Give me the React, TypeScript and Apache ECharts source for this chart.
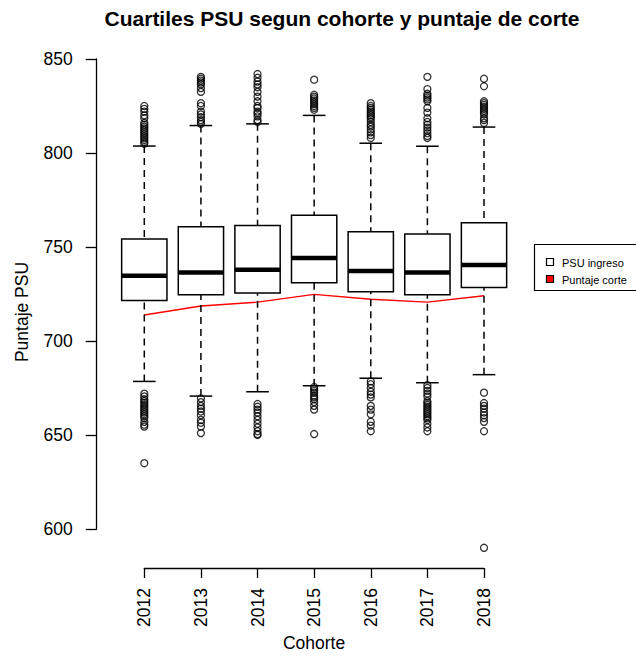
import { useEffect, useRef } from "react";
import * as echarts from "echarts";

// Cohorts on the horizontal axis
const cohorts = ["2012", "2013", "2014", "2015", "2016", "2017", "2018"];

// Five-number summaries of the admission score (PSU) per cohort
const lowerWhisker = [678.5, 670.7, 673.0, 676.2, 680.2, 677.8, 682.1];
const q1 = [721.6, 724.6, 725.5, 731.0, 726.2, 724.6, 728.4];
const median = [734.7, 736.5, 737.9, 744.1, 737.2, 736.5, 740.4];
const q3 = [754.3, 760.8, 761.5, 766.9, 758.1, 756.9, 762.9];
const upperWhisker = [803.7, 814.6, 815.5, 820.0, 805.2, 803.6, 813.8];

// Cut-off score per cohort
const cutoff = [713.8, 718.6, 720.7, 724.8, 722.2, 720.7, 724.1];

// Outlying scores per cohort
const outliers2012 = [805, 806, 807, 808, 809, 810, 811, 812, 813, 814, 815, 816, 818.5, 820, 822, 823.5, 825,
  672, 670.5, 669, 668, 667, 666, 665, 664, 663, 662, 661, 660, 659, 657, 655.5, 654.5, 635];
const outliers2013 = [815.5, 816.5, 817.5, 819, 820.5, 822, 825, 826.5, 832.5, 834.5, 836.5, 837.5, 838.5, 839.5, 840.5,
  669.5, 667.5, 665.5, 664, 662.5, 660.5, 658, 656.5, 654.5, 651];
const outliers2014 = [816.5, 817.5, 819.5, 821, 822, 824, 825, 827.5, 830, 832.5, 835, 836.5, 838, 840, 842,
  666.5, 665, 663.5, 662, 660, 658, 656, 654, 652, 650.5, 650];
const outliers2015 = [823, 824, 825, 826, 827, 828, 829, 830, 831, 839,
  675.5, 674.5, 673.5, 672.5, 671, 670, 669, 667.5, 665.5, 663.5, 650.5];
const outliers2016 = [808, 809.5, 811, 812.5, 814, 815, 816.5, 818, 819, 820, 821, 822, 823, 824, 825, 826.5,
  678.5, 677, 675, 673, 671.5, 670, 665.5, 663.5, 661, 657, 655, 652];
const outliers2017 = [808, 809, 810.5, 812, 813.5, 815, 816.5, 818.5, 821.5, 824, 827.5, 828.5, 829.5, 830.5, 831.5, 834, 840.5,
  676.5, 675, 673.5, 672, 670.5, 668, 667, 666, 665, 664, 663, 662, 661, 660, 659, 658, 656, 654, 652];
const outliers2018 = [816, 817.5, 818.5, 820.5, 821.5, 822.5, 823.5, 824.5, 825.5, 826.5, 827.5, 835.5, 839.5,
  672.5, 667, 665.5, 664, 662, 660.5, 659, 657, 652, 590];
const outliers = [outliers2012, outliers2013, outliers2014, outliers2015, outliers2016, outliers2017, outliers2018];

// Score axis ticks
const yTicks = [600, 650, 700, 750, 800, 850];

const FONT = '"Liberation Sans", Arial, Helvetica, sans-serif';

export default function App() {
  const ref = useRef<HTMLDivElement>(null);

  useEffect(() => {
    if (!ref.current) return;
    const chart = echarts.init(ref.current, null, { renderer: "svg" });

    const boxData = cohorts.map((_, i) => [i + 1, lowerWhisker[i], q1[i], median[i], q3[i], upperWhisker[i]]);
    const outlierData: number[][] = [];
    outliers.forEach((list, i) => list.forEach((v) => outlierData.push([i + 1, v])));
    const cutoffData = cutoff.map((v, i) => [i + 1, v]);

    const thin = { stroke: "#000", lineWidth: 1.5 };

    const option: any = {
      animation: false,
      backgroundColor: "#fff",
      textStyle: { fontFamily: FONT },
      grid: { left: 144.3, right: 152, top: 59, bottom: 127, outerBoundsMode: "none", containLabel: false },
      xAxis: {
        type: "value",
        min: 1,
        max: 7,
        interval: 1,
        offset: 39,
        splitLine: { show: false },
        axisLine: { show: true, onZero: false, lineStyle: { color: "#000", width: 1.3 } },
        axisTick: { show: true, length: 10, lineStyle: { color: "#000", width: 1.3 } },
        axisLabel: {
          rotate: 90,
          margin: 20,
          color: "#000",
          fontSize: 17.5,
          fontFamily: FONT,
          showMinLabel: true,
          showMaxLabel: true,
          formatter: (v: number) => cohorts[Math.round(v) - 1] ?? "",
        },
      },
      yAxis: {
        type: "value",
        min: yTicks[0],
        max: yTicks[yTicks.length - 1],
        interval: 50,
        offset: 47.6,
        splitLine: { show: false },
        axisLine: { show: true, lineStyle: { color: "#000", width: 1.3 } },
        axisTick: { show: true, length: 11, lineStyle: { color: "#000", width: 1.3 } },
        axisLabel: {
          margin: 24,
          color: "#000",
          fontSize: 17.5,
          fontFamily: FONT,
          showMinLabel: true,
          showMaxLabel: true,
        },
      },
      series: [
        {
          type: "line",
          data: cutoffData,
          symbol: "none",
          z: 1,
          lineStyle: { color: "#ff0000", width: 1.4 },
        },
        {
          type: "custom",
          data: boxData,
          z: 2,
          clip: false,
          renderItem: (_params: any, api: any) => {
            const x = api.value(0);
            const half = api.size([0.4, 0])[0];
            const staple = half / 2;
            const cx = api.coord([x, api.value(3)])[0];
            const yLw = api.coord([x, api.value(1)])[1];
            const yQ1 = api.coord([x, api.value(2)])[1];
            const yMed = api.coord([x, api.value(3)])[1];
            const yQ3 = api.coord([x, api.value(4)])[1];
            const yUw = api.coord([x, api.value(5)])[1];
            const dashed = { ...thin, lineDash: [7, 5] };
            return {
              type: "group",
              children: [
                { type: "line", shape: { x1: cx, y1: yLw, x2: cx, y2: yQ1 }, style: dashed },
                { type: "line", shape: { x1: cx, y1: yUw, x2: cx, y2: yQ3 }, style: dashed },
                { type: "line", shape: { x1: cx - staple, y1: yLw, x2: cx + staple, y2: yLw }, style: thin },
                { type: "line", shape: { x1: cx - staple, y1: yUw, x2: cx + staple, y2: yUw }, style: thin },
                {
                  type: "rect",
                  shape: { x: cx - half, y: yQ3, width: 2 * half, height: yQ1 - yQ3 },
                  style: { fill: "#fff", stroke: "#000", lineWidth: 1.5 },
                },
                {
                  type: "line",
                  shape: { x1: cx - half, y1: yMed, x2: cx + half, y2: yMed },
                  style: { stroke: "#000", lineWidth: 4.5 },
                },
              ],
            };
          },
        },
        {
          type: "scatter",
          data: outlierData,
          clip: false,
          z: 3,
          symbol: "circle",
          symbolSize: 7,
          itemStyle: { color: "rgba(255,255,255,0)", borderColor: "#000", borderWidth: 1.3 },
        },
      ],
      graphic: [
        {
          type: "text",
          x: 342,
          y: 18,
          style: {
            text: "Cuartiles PSU segun cohorte y puntaje de corte",
            font: `bold 21px ${FONT}`,
            fill: "#000",
            align: "center",
            verticalAlign: "middle",
          },
        },
        {
          type: "text",
          x: 22,
          y: 312,
          rotation: Math.PI / 2,
          style: {
            text: "Puntaje PSU",
            font: `17.5px ${FONT}`,
            fill: "#000",
            align: "center",
            verticalAlign: "middle",
          },
        },
        {
          type: "text",
          x: 314,
          y: 643,
          style: {
            text: "Cohorte",
            font: `17.5px ${FONT}`,
            fill: "#000",
            align: "center",
            verticalAlign: "middle",
          },
        },
        {
          type: "group",
          children: [
            {
              type: "rect",
              shape: { x: 534.5, y: 244.5, width: 120, height: 46 },
              style: { fill: "#fff", stroke: "#000", lineWidth: 1.2 },
            },
            {
              type: "rect",
              shape: { x: 546.5, y: 258.5, width: 7, height: 7 },
              style: { fill: "#fff", stroke: "#000", lineWidth: 1.2 },
            },
            {
              type: "rect",
              shape: { x: 546.5, y: 275.5, width: 7, height: 7 },
              style: { fill: "#ff0000", stroke: "#000", lineWidth: 1.2 },
            },
            {
              type: "text",
              x: 562,
              y: 262.5,
              style: { text: "PSU ingreso", font: `11px ${FONT}`, fill: "#000", verticalAlign: "middle" },
            },
            {
              type: "text",
              x: 562,
              y: 279.5,
              style: { text: "Puntaje corte", font: `11px ${FONT}`, fill: "#000", verticalAlign: "middle" },
            },
          ],
        },
      ],
    };

    chart.setOption(option);
    return () => chart.dispose();
  }, []);

  return (
    <div
      ref={ref}
      style={{ position: "fixed", left: 0, top: 0, width: 636, height: 656, background: "#fff" }}
    />
  );
}
